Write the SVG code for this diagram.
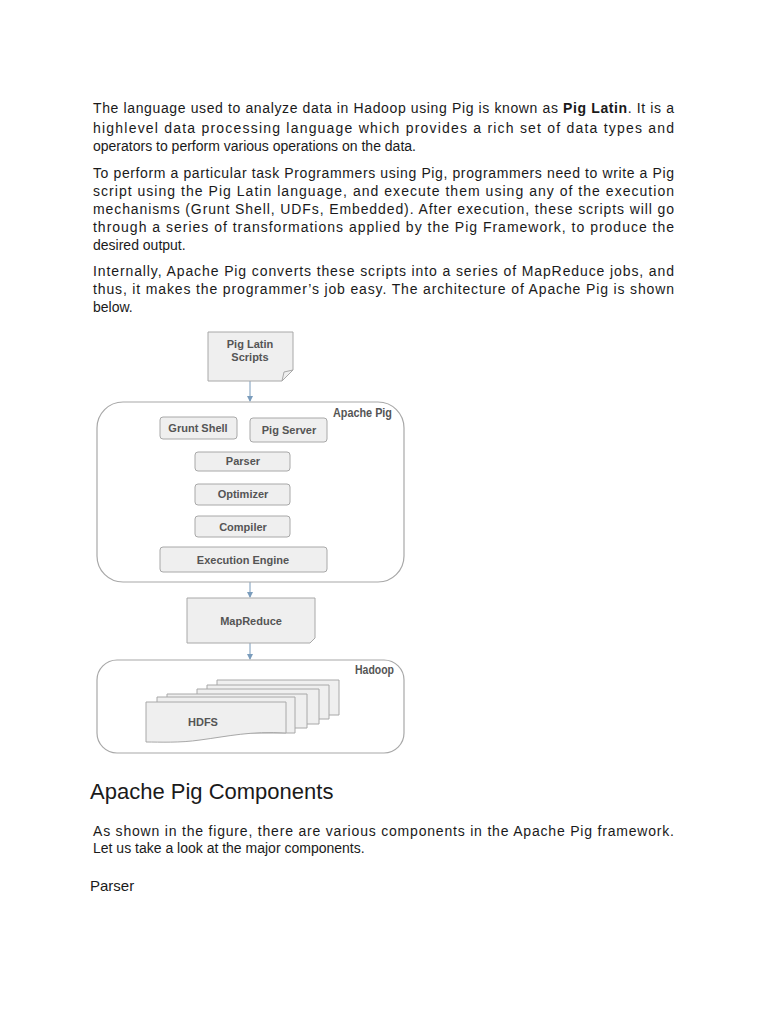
<svg xmlns="http://www.w3.org/2000/svg" width="768" height="1024" viewBox="0 0 768 1024">
<style>
.p{font-family:"Liberation Sans",Arial,sans-serif;font-size:14px;fill:#1a1a1a}
.h{font-family:"Liberation Sans",Arial,sans-serif;font-size:22px;fill:#1a1a1a}
.s{font-family:"Liberation Sans",Arial,sans-serif;font-size:15px;fill:#1a1a1a}
.box{fill:#efefef;stroke:#a8a8a8;stroke-width:1}
.cont{fill:#ffffff;stroke:#a8a8a8;stroke-width:1.2}
.lbl{font-family:"Liberation Sans",Arial,sans-serif;font-size:11px;font-weight:bold;fill:#555;text-anchor:middle}
.clbl{font-family:"Liberation Sans",Arial,sans-serif;font-size:12px;font-weight:bold;fill:#555}
.arr{stroke:#7a9cbc;stroke-width:1;fill:none;marker-end:url(#ah)}
</style>
<defs>
<marker id="ah" markerWidth="6" markerHeight="6" refX="5" refY="3" orient="auto" markerUnits="userSpaceOnUse">
<path d="M0,0 L6,3 L0,6 Z" fill="#7a9cbc"/>
</marker>
</defs>
<rect width="768" height="1024" fill="#ffffff"/>
<g id="text-top">
<text class="p" x="93" y="113" textLength="581" lengthAdjust="spacing">The language used to analyze data in Hadoop using Pig is known as <tspan font-weight="bold">Pig Latin</tspan>. It is a</text>
<text class="p" x="93" y="133" textLength="581" lengthAdjust="spacing">highlevel data processing language which provides a rich set of data types and</text>
<text class="p" x="93" y="151">operators to perform various operations on the data.</text>
<text class="p" x="93" y="178" textLength="581" lengthAdjust="spacing">To perform a particular task Programmers using Pig, programmers need to write a Pig</text>
<text class="p" x="93" y="196" textLength="581" lengthAdjust="spacing">script using the Pig Latin language, and execute them using any of the execution</text>
<text class="p" x="93" y="214" textLength="581" lengthAdjust="spacing">mechanisms (Grunt Shell, UDFs, Embedded). After execution, these scripts will go</text>
<text class="p" x="93" y="232" textLength="581" lengthAdjust="spacing">through a series of transformations applied by the Pig Framework, to produce the</text>
<text class="p" x="93" y="250">desired output.</text>
<text class="p" x="93" y="276" textLength="581" lengthAdjust="spacing">Internally, Apache Pig converts these scripts into a series of MapReduce jobs, and</text>
<text class="p" x="93" y="294" textLength="581" lengthAdjust="spacing">thus, it makes the programmer’s job easy. The architecture of Apache Pig is shown</text>
<text class="p" x="93" y="312">below.</text>
</g>
<g id="connectors">
<line class="arr" x1="250" y1="381" x2="250" y2="401"/>
<line class="arr" x1="250" y1="582" x2="250" y2="597"/>
<line class="arr" x1="250" y1="643" x2="250" y2="659"/>
</g>
<g id="pig-latin-scripts">
<path class="box" d="M208,332 L293,332 L293,370 L282,381 L208,381 Z"/>
<path d="M282,381 L284,372 L293,370" fill="none" stroke="#a8a8a8"/>
<text class="lbl" x="250" y="348">Pig Latin</text>
<text class="lbl" x="250" y="361">Scripts</text>
</g>
<g id="apache-pig">
<rect class="cont" x="97" y="402" width="307" height="180" rx="26"/>
<text class="clbl" x="333" y="417" textLength="59" lengthAdjust="spacingAndGlyphs">Apache Pig</text>
</g>
<g id="grunt-shell">
<rect class="box" x="160" y="417" width="77" height="22" rx="3"/>
<text class="lbl" x="198" y="432">Grunt Shell</text>
</g>
<g id="pig-server">
<rect class="box" x="250" y="418" width="77" height="24" rx="3"/>
<text class="lbl" x="289" y="434">Pig Server</text>
</g>
<g id="parser">
<rect class="box" x="195" y="452" width="95" height="19" rx="3"/>
<text class="lbl" x="243" y="465">Parser</text>
</g>
<g id="optimizer">
<rect class="box" x="195" y="484" width="95" height="21" rx="3"/>
<text class="lbl" x="243" y="498">Optimizer</text>
</g>
<g id="compiler">
<rect class="box" x="195" y="516" width="95" height="21" rx="3"/>
<text class="lbl" x="243" y="531">Compiler</text>
</g>
<g id="execution-engine">
<rect class="box" x="160" y="547" width="167" height="25" rx="3"/>
<text class="lbl" x="243" y="564">Execution Engine</text>
</g>
<g id="mapreduce">
<path class="box" d="M187,598 L315,598 L315,638 L310,643 L187,643 Z"/>
<text class="lbl" x="251" y="625">MapReduce</text>
</g>
<g id="hadoop">
<rect class="cont" x="97" y="660" width="307" height="93" rx="20"/>
<text class="clbl" x="355" y="674" textLength="39" lengthAdjust="spacingAndGlyphs">Hadoop</text>
</g>
<g id="hdfs">
<path class="box" d="M217,680 L339,680 L339,715 L217,715 Z"/>
<path class="box" d="M207,685 L329,685 L329,719 L207,719 Z"/>
<path class="box" d="M197,689 L319,689 L319,724 L197,724 Z"/>
<path class="box" d="M167,694 L307,694 L307,728 L167,728 Z"/>
<path class="box" d="M157,697 L295,697 L295,733 L157,733 Z"/>
<path class="box" d="M146,702 L286,702 L286,733 C250,731 230,736 200,740 C180,743 160,742 146,742 Z"/>
<text class="lbl" x="203" y="726">HDFS</text>
</g>
<g id="text-bottom">
<text class="h" x="90" y="799">Apache Pig Components</text>
<text class="p" x="93" y="836" textLength="581" lengthAdjust="spacing">As shown in the figure, there are various components in the Apache Pig framework.</text>
<text class="p" x="93" y="853">Let us take a look at the major components.</text>
<text class="s" x="90" y="891">Parser</text>
</g>
</svg>
